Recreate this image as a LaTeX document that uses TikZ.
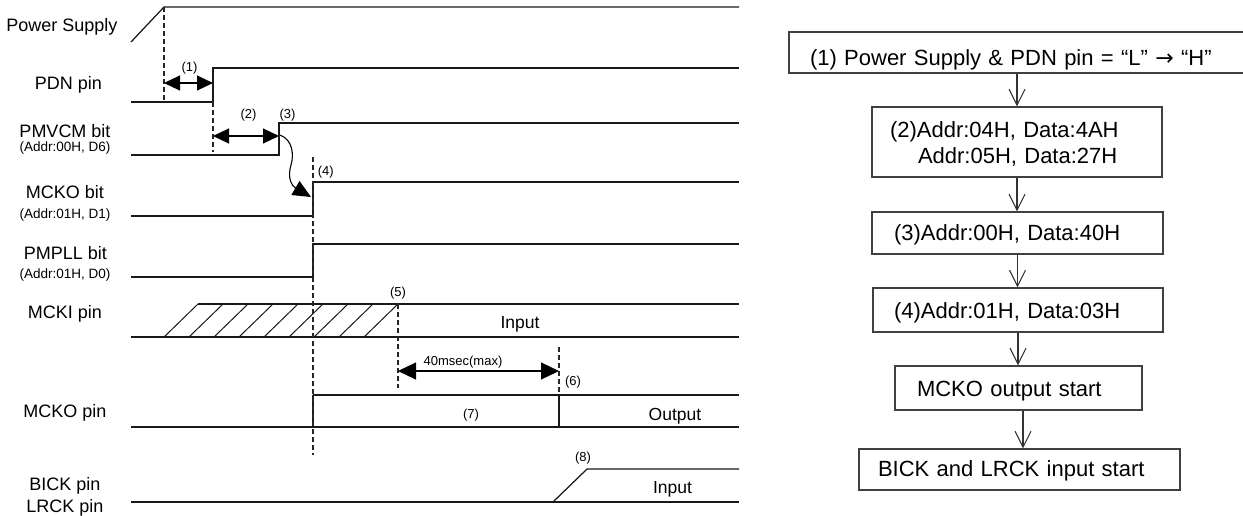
\documentclass[tikz,border=0pt]{standalone}
\usepackage{fontspec}
\setmainfont{Liberation Sans}
\newfontfamily\dejavu{DejaVu Sans}
\usetikzlibrary{arrows.meta}
\begin{document}
\begin{tikzpicture}[x=1pt,y=-1pt,
  sig/.style={line width=1.25pt, black!90},
  guide/.style={line width=1.1pt, dash pattern=on 5pt off 3pt, black!85},
  dimarrow/.style={line width=1.1pt, black, {Triangle[length=16pt,width=15pt]}-{Triangle[length=16pt,width=15pt]}},
  lbl/.style={font=\fontsize{18}{20}\selectfont, anchor=base, inner sep=0pt},
  sub/.style={font=\fontsize{13.5}{15}\selectfont, anchor=base, inner sep=0pt},
  num/.style={font=\fontsize{13}{15}\selectfont, anchor=base, inner sep=0pt},
  state/.style={font=\fontsize{17.5}{20}\selectfont, anchor=base, inner sep=0pt},
  box/.style={draw=black!75, line width=1.1pt, font=\fontsize{22}{26}\selectfont, align=left, inner ysep=0pt, anchor=center},
  flow/.style={line width=1.1pt, black!80, -{Straight Barb[length=16pt,width=16pt]}}]
\useasboundingbox (0,0) rectangle (1243,515);

% ---------- signal labels ----------
\node[lbl] (tps) at (62,31) {Power Supply};
\node[lbl] (tpdn) at (68.5,89) {PDN pin};
\node[lbl] (tvcm) at (65,137) {PMVCM bit};
\node[sub] (tvcma) at (65,151) {(Addr:00H, D6)};
\node[lbl] (tmb) at (65,198) {MCKO bit};
\node[sub] (tmba) at (65,218) {(Addr:01H, D1)};
\node[lbl] (tpll) at (65.5,259) {PMPLL bit};
\node[sub] (tplla) at (65,278) {(Addr:01H, D0)};
\node[lbl] (tmcki) at (65,318) {MCKI pin};
\node[lbl] (tmcko) at (65,417) {MCKO pin};
\node[lbl] (tbick) at (65,490) {BICK pin};
\node[lbl] (tlrck) at (65,512) {LRCK pin};

% ---------- waveforms ----------
\draw[sig] (131,42) -- (164,7) -- (739,7);
\draw[sig] (131,102) -- (213,102) -- (213,68) -- (739,68);
\draw[sig] (131,155) -- (279,155) -- (279,123) -- (739,123);
\draw[sig] (131,216) -- (313,216) -- (313,182) -- (739,182);
\draw[sig] (131,277) -- (313,277) -- (313,244) -- (739,244);
% MCKI
\draw[sig] (131,337) -- (739,337);
\draw[sig] (198,304) -- (739,304);
\foreach \k in {0,...,8}{
  \draw[sig, line width=1pt] ({164+25*\k},337) -- ({198+25*\k},304);
}
% MCKO pin
\draw[sig] (313,395) -- (739,395);
\draw[sig] (131,427) -- (739,427);
\draw[sig] (313,395) -- (313,427);
\draw[sig] (559,395) -- (559,427);
% BICK / LRCK
\draw[sig] (131,502) -- (739,502);
\draw[sig] (553,502) -- (587,469) -- (739,469);

% ---------- guide lines ----------
\draw[guide] (164,7) -- (164,102);
\draw[guide] (213,102) -- (213,152);
\draw[guide] (313,157) -- (313,455);
\draw[guide] (398,304) -- (398,388);
\draw[guide] (559,347) -- (559,395);

% ---------- timing arrows ----------
\draw[dimarrow] (164,83) -- (213,83);
\draw[dimarrow] (213,136) -- (279,136);
\draw[line width=1.1pt, black, {Triangle[length=18pt,width=17pt]}-{Triangle[length=18pt,width=17pt]}] (398,371) -- (559,371);
\draw[line width=1.1pt, black, -{Triangle[length=18pt,width=16pt]}]
  (280,135) .. controls (293,140) and (294,155) .. (291,165)
  .. controls (287,178) and (292,186) .. (311,197);

% ---------- timing numbers ----------
\node[num] (n1) at (189.5,71.5) {(1)};
\node[num] (n2) at (248.5,118) {(2)};
\node[num] (n3) at (287.5,118) {(3)};
\node[num] (n4) at (325.7,175) {(4)};
\node[num] (n5) at (398,296) {(5)};
\node[num] (n6) at (573,385) {(6)};
\node[num] (n7) at (471,418) {(7)};
\node[num] (n8) at (583,461) {(8)};
\node[num] (n40) at (463,365) {40msec(max)};
\node[state] (sin1) at (520,328) {Input};
\node[state] (sout) at (675,420) {Output};
\node[state] (sin2) at (672.5,493) {Input};

% ---------- flowchart ----------
\node[box, minimum width=457pt, minimum height=41pt, inner xsep=21pt, text width=415pt, text height=27pt, text depth=2pt] (b1) at (1017.5,52.5)
  {(1) Power Supply \& PDN pin = “L” {\dejavu →} “H”};
\node[box, minimum width=290pt, minimum height=70pt, inner xsep=18pt, text width=254pt, text height=16pt, text depth=26pt] (b2) at (1017,142)
  {(2)Addr:04H, Data:4AH\\\hspace*{28pt}Addr:05H, Data:27H};
\node[box, minimum width=291pt, minimum height=42pt, inner xsep=22pt, text width=247pt, text height=18pt, text depth=4pt] (b3) at (1017.5,233)
  {(3)Addr:00H, Data:40H};
\node[box, minimum width=290pt, minimum height=44pt, inner xsep=21pt, text width=248pt, text height=20pt, text depth=4pt] (b4) at (1018,310)
  {(4)Addr:01H, Data:03H};
\node[box, minimum width=247pt, minimum height=44pt, inner xsep=22pt, text width=203pt, text height=21.4pt, text depth=4pt] (b5) at (1018.5,388)
  {MCKO output start};
\node[box, minimum width=321pt, minimum height=41pt, inner xsep=19pt, text width=283pt, text height=18.4pt, text depth=4pt] (b6) at (1019.5,469.5)
  {BICK and LRCK input start};

\draw[flow] (b1.south -| b2.north) -- (b2.north);
\draw[flow] (b2.south) -- (b2.south |- b3.north);
\draw[flow] (b3.south) -- (b3.south |- b4.north);
\draw[flow] (b4.south) -- (b4.south |- b5.north);
\draw[flow] ([xshift=4.5pt]b5.south) -- ([xshift=4.5pt]b5.south |- b6.north);
\end{tikzpicture}
\end{document}
